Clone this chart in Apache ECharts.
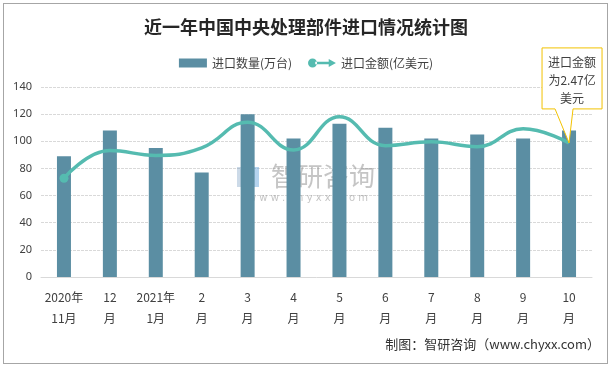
<!DOCTYPE html>
<html><head><meta charset="utf-8">
<script src="https://cdn.jsdelivr.net/npm/echarts@6/dist/echarts.min.js"></script>
<style>
html,body{margin:0;padding:0;background:#fff;}
#frame{position:absolute;left:3px;top:3px;width:605px;height:361px;border:1px solid #a6a6a6;box-sizing:border-box;}
#c{position:absolute;left:0;top:0;width:612px;height:369px;}
</style></head>
<body>
<div id="frame"></div>
<div id="c"></div>
<script>
const categories = ['2020年\n11月','12\n月','2021年\n1月','2\n月','3\n月','4\n月','5\n月','6\n月','7\n月','8\n月','9\n月','10\n月'];
const quantity = [89, 108, 95, 77, 120, 102, 113, 110, 102, 105, 102, 108];
const amount = [1.82, 2.33, 2.24, 2.38, 2.85, 2.34, 2.95, 2.42, 2.49, 2.40, 2.73, 2.47];
const yTicks = [0, 20, 40, 60, 80, 100, 120, 140];
const seriesNames = ['进口数量(万台)', '进口金额(亿美元)'];
const titleText = '近一年中国中央处理部件进口情况统计图';
const calloutLines = ['进口金额', '为2.47亿', '美元'];
const footerText = '制图：智研咨询（www.chyxx.com）';

const barColor = '#5b8ea3';
const lineColor = '#55bbb0';
const chart = echarts.init(document.getElementById('c'), null, {renderer: 'canvas'});
const lineIcon = 'path://M0,5a5,5 0 1,0 10,0a5,5 0 1,0 -10,0Z M8,3.6L25,3.6L25,6.4L8,6.4Z M23,0.5L31,5L23,9.5Z';

const option = {
  animation: false,
  backgroundColor: 'transparent',
  title: {
    text: titleText, left: 'center', top: 13,
    textStyle: {fontFamily: 'Noto Sans CJK SC', fontSize: 18, fontWeight: 'bold', color: '#262626'}
  },
  legend: {
    top: 52, left: 'center', itemGap: 16, itemWidth: 28, itemHeight: 9,
    textStyle: {fontFamily: 'Noto Sans CJK SC', fontSize: 12, color: '#404040'},
    data: [
      {name: seriesNames[0], icon: 'rect'},
      {name: seriesNames[1], icon: lineIcon, itemStyle: {color: lineColor}}
    ]
  },
  grid: {left: 41, right: 20, top: 87, bottom: 92, containLabel: false},
  xAxis: {
    type: 'category', data: categories,
    axisLine: {lineStyle: {color: '#d9d9d9'}},
    axisTick: {show: false},
    axisLabel: {fontFamily: 'Noto Sans CJK SC', fontSize: 12, color: '#404040', lineHeight: 21, margin: 10, interval: 0}
  },
  yAxis: [{
    type: 'value', min: yTicks[0], max: yTicks[yTicks.length - 1], interval: 20,
    axisLine: {show: false}, axisTick: {show: false},
    axisLabel: {fontFamily: 'Noto Sans', fontSize: 11, color: '#404040', margin: 9},
    splitLine: {lineStyle: {color: '#d9d9d9', type: [3, 1]}}
  }, {
    type: 'value', min: 0, max: 3.5, show: false, splitLine: {show: false}
  }],
  series: [{
    name: seriesNames[0], type: 'bar', data: quantity, barWidth: 14, z: 3,
    itemStyle: {color: barColor}
  }, {
    name: seriesNames[1], type: 'line', yAxisIndex: 1, smooth: 0.45, z: 4,
    data: amount.map((v, i) => i === 0 ? {value: v, symbol: 'circle', symbolSize: 9} : {value: v, symbol: 'none'}),
    lineStyle: {color: lineColor, width: 3.5},
    itemStyle: {color: lineColor},
    showSymbol: true
  }]
};
chart.setOption(option);

// callout anchored to the last line point
const lastIdx = amount.length - 1;
const p = chart.convertToPixel({seriesIndex: 1}, [lastIdx, amount[lastIdx]]);
const bx = p[0] - 27, by = p[1] - 95, bw = 60, bh = 61;
const t1 = p[0] - 14, t2 = p[0] + 4;
const graphics = [
  {type: 'polygon', z: 100, shape: {points: [
    [bx, by], [bx + bw, by], [bx + bw, by + bh], [t2, by + bh], [p[0], p[1]], [t1, by + bh], [bx, by + bh]
  ]}, style: {fill: '#ffffff', stroke: '#f2c200', lineWidth: 1}},
  {type: 'text', z: 101, x: bx + bw / 2, y: by + 6, style: {
    text: calloutLines.join('\n'), fill: '#404040', font: '12px "Noto Sans CJK SC"', align: 'center', lineHeight: 18
  }},
  {type: 'text', z: 0, zlevel: 0, x: 323, y: 163, style: {
    text: '智研咨询', fill: 'rgba(140,140,140,0.5)', font: '26px "Noto Sans CJK SC"', align: 'center', letterSpacing: 3
  }},
  {type: 'text', z: 0, x: 308, y: 193, style: {
    text: 'w w w . c h y x x . c o m', fill: 'rgba(140,140,140,0.5)', font: '10px "DejaVu Sans"', align: 'center'
  }},
  {type: 'rect', z: 0, shape: {x: 237, y: 167, width: 10, height: 20}, style: {fill: 'rgba(110,150,190,0.35)'}},
  {type: 'rect', z: 0, shape: {x: 249, y: 167, width: 10, height: 20}, style: {fill: 'rgba(90,160,220,0.45)'}},
  {type: 'text', z: 10, right: 12, top: 338, style: {
    text: footerText, fill: '#333', font: '13px "Noto Sans CJK SC"'
  }}
];
chart.setOption({graphic: graphics});
</script>
</body></html>
